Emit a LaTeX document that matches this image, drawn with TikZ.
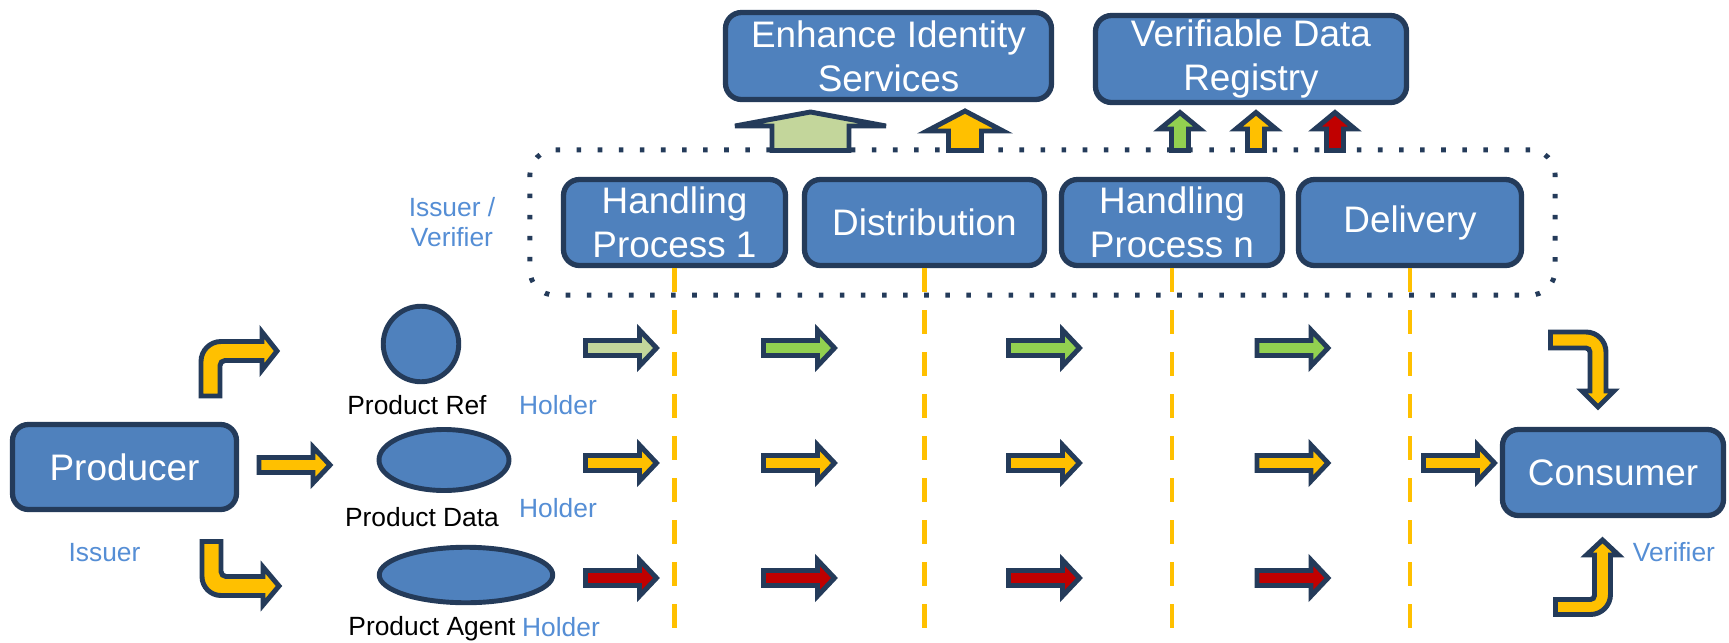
\documentclass[tikz,border=0pt]{standalone}
\usepackage{fontspec}
\setmainfont{Liberation Sans}
\usepackage{tikz}
\usetikzlibrary{shapes.geometric,fit,calc}
\usepackage{xcolor}

\definecolor{boxblue}{HTML}{4F81BD}
\definecolor{edgenavy}{HTML}{243B5A}
\definecolor{arrowgold}{HTML}{FFC000}
\definecolor{arrowgreen}{HTML}{92D050}
\definecolor{arrowpale}{HTML}{C3D69B}
\definecolor{arrowred}{HTML}{C00000}
\definecolor{rolecol}{HTML}{558ED5}

\newcommand{\boxfont}{\fontsize{10.5}{12.5}\selectfont}
\newcommand{\labelfont}{\fontsize{7.5}{8.6}\selectfont}

\pgfdeclareradialshading{slideglow}{\pgfpoint{0bp}{0bp}}{color(0bp)=(white); color(40bp)=(white); color(50bp)=(black!11)}

\tikzset{
    roundbox/.style={rectangle, rounded corners=0.16cm, draw=edgenavy, line width=1.5pt,
        fill=boxblue, text=white, font=\boxfont, align=center, inner sep=0pt},
    prodshape/.style={ellipse, draw=edgenavy, line width=1.4pt, fill=boxblue, inner sep=0pt},
    role/.style={text=rolecol, font=\labelfont, inner sep=0pt},
    caption/.style={text=black, font=\labelfont, inner sep=0pt},
    procline/.style={draw=arrowgold, line width=1.4pt, dash pattern=on 0.24cm off 0.18cm},
    zone/.style={draw=edgenavy, line width=1.4pt, dash pattern=on 1.3pt off 4.7pt,
        rounded corners=0.25cm, inner xsep=0.31cm, inner ysep=0.27cm},
    flow/.style={draw=edgenavy, line width=1.4pt, line join=miter},
    pics/rarrow/.style={code={
        \path[flow, fill=#1] (-36,-7.5) -- (18,-7.5) -- (18,-18) -- (35,0)
            -- (18,18) -- (18,7.5) -- (-36,7.5) -- cycle;
    }},
    pics/uarrow/.style={code={
        \path[flow, fill=#1] (-8.5,0) -- (-8.5,21.5) -- (-20,21.5) -- (0,38)
            -- (20,21.5) -- (8.5,21.5) -- (8.5,0) -- cycle;
    }},
}

\begin{document}
\begin{tikzpicture}[x=0.1mm, y=0.1mm]
    \useasboundingbox (0,0) rectangle (1729,642);

    % Background
    \begin{scope}
        \clip (0,0) rectangle (1729,642);
        \shade[shading=slideglow] (900,640) circle (1110);
    \end{scope}
    \coordinate (ground) at (0,0);

    % Services on top
    \node[roundbox, minimum width=3.26cm, minimum height=0.87cm] (eis) at (888.5,586) {Enhance Identity\\Services};
    \node[roundbox, minimum width=3.11cm, minimum height=0.87cm] (vdr) at (1251,583) {Verifiable Data\\Registry};

    % Handling chain
    \node[roundbox, minimum width=2.22cm, minimum height=0.86cm] (hp1) at (674.5,419.5) {Handling\\Process 1};
    \node[roundbox, minimum width=2.40cm, minimum height=0.86cm] (dist) at (924.5,419.5) {Distribution};
    \node[roundbox, minimum width=2.21cm, minimum height=0.86cm] (hpn) at (1172,419.5) {Handling\\Process n};
    \node[roundbox, minimum width=2.23cm, minimum height=0.86cm] (delivery) at (1410,419.5) {Delivery};

    \foreach \n in {hp1,dist,hpn,delivery}
        \draw[procline] (\n.south) -- (\n.south |- ground);

    \node[zone, fit=(hp1)(delivery)] (issuerzone) {};
    \node[role, align=center] (ivlbl) at (452,420) {Issuer /\\Verifier};

    % Up arrows into the services
    \path[flow, fill=arrowpale] (772,491.5) -- (772,516) -- (735,516) -- (810.5,530)
        -- (886,516) -- (849,516) -- (849,491.5) -- cycle;
    \path[flow, fill=arrowgold] (948.5,491.5) -- (948.5,511) -- (927,511) -- (965,531)
        -- (1003,511) -- (981.5,511) -- (981.5,491.5) -- cycle;
    \foreach \x/\c in {1180/arrowgreen, 1256/arrowgold, 1335/arrowred}
        \pic at (\x,491.5) {uarrow=\c};

    % Producer and products
    \node[roundbox, minimum width=2.24cm, minimum height=0.85cm] (producer) at (124.5,175) {Producer};
    \node[role] (issuerlbl) at (104.5,89) {Issuer};

    \node[prodshape, minimum width=0.755cm, minimum height=0.755cm] (pref) at (421,298) {};
    \node[prodshape, minimum width=1.30cm, minimum height=0.61cm] (pdata) at (444,182) {};
    \node[prodshape, minimum width=1.735cm, minimum height=0.555cm] (pagent) at (466,67) {};
    \node[caption] (reflbl) at (417,237) {Product Ref};
    \node[caption] (datalbl) at (422,125) {Product Data};
    \node[caption] (agentlbl) at (432,13) {Product Agent};
    \node[role] (holder1) at (558,237) {Holder};
    \node[role] (holder2) at (558,134) {Holder};
    \node[role] (holder3) at (561,15) {Holder};

    \path[flow, fill=arrowgold] (201,246) -- (201,280.5) arc[start angle=180, end angle=90, radius=20]
        -- (262,300.5) -- (262,310) -- (277,291) -- (262,272) -- (262,281.5)
        -- (225,281.5) arc[start angle=90, end angle=180, radius=5] -- (220,246) -- cycle;
    \pic at (295,177) {rarrow=arrowgold};
    \path[flow, fill=arrowgold] (202,100.5) -- (202,65.5) arc[start angle=180, end angle=270, radius=19]
        -- (263,46.5) -- (263,37) -- (279,56) -- (263,75) -- (263,65.5)
        -- (226,65.5) arc[start angle=270, end angle=180, radius=5] -- (221,100.5) -- cycle;

    % Credential flow along the chain
    \foreach \x/\c in {621.5/arrowpale, 799.5/arrowgreen, 1044.5/arrowgreen, 1293/arrowgreen}
        \pic at (\x,294) {rarrow=\c};
    \foreach \x in {621.5, 799.5, 1044.5, 1293, 1459.5}
        \pic at (\x,179) {rarrow=arrowgold};
    \foreach \x in {621.5, 799.5, 1044.5, 1293}
        \pic at (\x,64) {rarrow=arrowred};

    % Consumer
    \node[roundbox, minimum width=2.21cm, minimum height=0.86cm] (consumer) at (1613,169.5) {Consumer};
    \node[role] (verlbl) at (1674,90) {Verifier};

    \path[flow, fill=arrowgold] (1550.5,310) -- (1586,310) arc[start angle=90, end angle=0, radius=20]
        -- (1606,251) -- (1614,251) -- (1598,235) -- (1582,251) -- (1590,251)
        -- (1590,290) arc[start angle=0, end angle=90, radius=4] -- (1550.5,294) -- cycle;
    \path[flow, fill=arrowgold] (1555.5,42.5) -- (1590.5,42.5) arc[start angle=270, end angle=360, radius=4]
        -- (1594.5,87) -- (1586.5,87) -- (1602.5,102) -- (1618.5,87) -- (1610.5,87)
        -- (1610.5,47.5) arc[start angle=0, end angle=-90, radius=20] -- (1555.5,27.5) -- cycle;
\end{tikzpicture}
\end{document}
